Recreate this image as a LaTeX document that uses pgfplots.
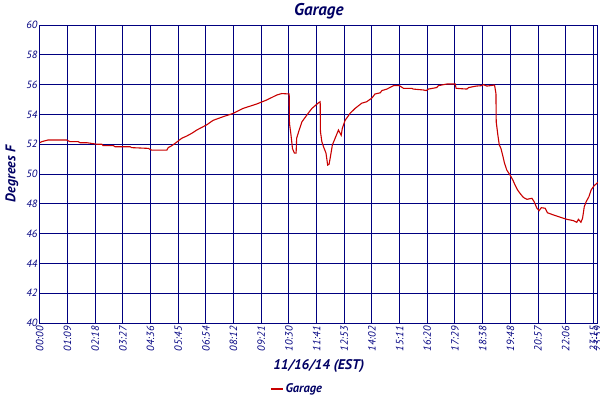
\documentclass[border=0pt]{standalone}
\usepackage{fontspec}
\setmainfont{PT Sans}
\usepackage{pgfplots}
\pgfplotsset{compat=1.18}
\definecolor{navy}{RGB}{0,0,128}
\definecolor{darknavy}{RGB}{0,0,100}
\definecolor{linered}{RGB}{200,0,0}
\begin{document}
\begin{tikzpicture}
\useasboundingbox (-39.8pt,-77pt) rectangle (560.2pt,323pt);
\begin{axis}[
  scale only axis,
  width=558pt, height=298pt,
  xmin=0, xmax=20.16, ymin=40, ymax=60,
  xtick={0,1,2,3,4,5,6,7,8,9,10,11,12,13,14,15,16,17,18,19,20,20.16},
  xticklabels={00:00,01:09,02:18,03:27,04:36,05:45,06:54,08:12,09:21,10:30,11:41,12:53,14:02,15:11,16:20,17:29,18:38,19:48,20:57,22:06,23:15,23:59},
  ytick={40,42,...,60},
  /pgf/number format/assume math mode=true,
  major tick length=0pt,
  grid=major,
  grid style={navy, line width=1pt},
  axis line style={navy, line width=1pt},
  tick label style={font=\fontsize{10.5}{12}\selectfont\itshape, text=navy},
  xticklabel style={rotate=90, anchor=east},
  yticklabel style={xshift=1pt},
  title={Garage},
  title style={font=\fontsize{17}{20}\selectfont\bfseries\itshape, text=darknavy,
    at={(axis description cs:0.5,1)}, anchor=base, yshift=4pt},
  xlabel={11/16/14 (EST)},
  xlabel style={font=\fontsize{14}{16}\selectfont\bfseries\itshape, text=darknavy,
    at={(axis description cs:0.5,0)}, anchor=center, yshift=-43pt},
  ylabel={Degrees F},
  ylabel style={font=\fontsize{14}{16}\selectfont\bfseries\itshape, text=darknavy,
    at={(axis description cs:-0.050,0.5)}, anchor=center},
  legend style={at={(0.461,-0.221)}, anchor=center, draw=none, fill=none,
    font=\fontsize{12.5}{14}\selectfont\bfseries\itshape, text=darknavy,
    inner sep=0pt},
  legend image code/.code={\draw[#1, line width=1.5pt] (0pt,0pt) -- (12pt,0pt);},
]
\addplot[linered, line width=1.1pt, mark=none] coordinates {
(0,52.1) (0.07,52.17) (0.29,52.28) (0.97,52.28) (1.09,52.17) (1.39,52.17)
(1.45,52.1) (1.70,52.1) (2.06,52.0) (2.24,52.0) (2.29,51.9) (2.66,51.9)
(2.72,51.83) (3.26,51.83) (3.32,51.77) (3.92,51.72) (4.04,51.6) (4.59,51.6)
(4.64,51.77) (4.77,51.9) (4.89,52.06) (5.01,52.23) (5.13,52.4) (5.31,52.55)
(5.49,52.73) (5.67,52.95) (6.03,53.3) (6.26,53.6) (6.63,53.85) (6.99,54.07)
(7.34,54.4) (7.84,54.7) (8.20,54.97) (8.56,55.3) (8.74,55.4) (9.01,55.37)
(9.02,53.4) (9.07,52.7) (9.13,51.7) (9.20,51.4) (9.26,51.4) (9.28,52.4)
(9.37,52.95) (9.47,53.5) (9.65,53.96) (9.83,54.4) (10.07,54.78) (10.13,54.85)
(10.14,52.84) (10.19,52.17) (10.25,51.83) (10.34,51.4) (10.40,50.6) (10.45,50.65)
(10.49,51.05) (10.57,51.95) (10.67,52.4) (10.79,52.95) (10.89,52.6) (10.93,53.07)
(11.03,53.6) (11.21,54.07) (11.39,54.4) (11.63,54.75) (11.81,54.85) (12.00,55.1)
(12.11,55.37) (12.30,55.45) (12.36,55.6) (12.54,55.7) (12.78,55.93) (12.99,55.93)
(13.14,55.75) (13.44,55.75) (13.49,55.7) (13.86,55.64) (13.96,55.6) (14.04,55.7)
(14.34,55.8) (14.40,55.93) (14.71,56.04) (15.01,56.04) (15.04,55.75) (15.43,55.7)
(15.49,55.8) (15.76,55.9) (15.97,55.93) (16.03,56.0) (16.15,55.9) (16.43,55.97)
(16.48,55.4) (16.49,53.5) (16.55,52.6) (16.60,51.95) (16.66,51.72) (16.72,51.28)
(16.79,50.72) (16.87,50.27) (16.99,49.93) (17.09,49.6) (17.17,49.26) (17.26,48.93)
(17.35,48.7) (17.47,48.43) (17.60,48.3) (17.78,48.37) (17.86,48.14) (17.96,47.7)
(18.04,47.54) (18.12,47.74) (18.26,47.7) (18.34,47.4) (18.56,47.25) (18.80,47.1)
(19.04,46.96) (19.28,46.87) (19.40,46.76) (19.46,46.96) (19.55,46.76) (19.61,47.03)
(19.67,47.8) (19.74,48.14) (19.84,48.48) (19.92,48.93) (20.02,49.2) (20.13,49.38)
(20.16,49.45)
};
\addlegendentry{Garage}
\end{axis}
\end{tikzpicture}
\end{document}
